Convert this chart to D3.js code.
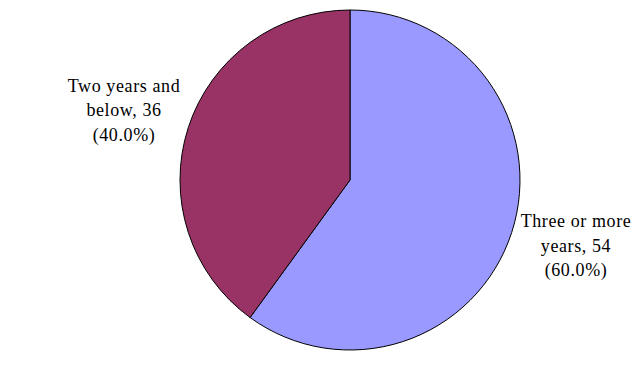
<!DOCTYPE html>
<html><head><meta charset="utf-8">
<script src="https://cdn.jsdelivr.net/npm/d3@7"></script>
<style>body{margin:0;background:#fff}svg{display:block}</style>
</head><body>
<svg id="c" width="633" height="386"></svg>
<script>
const categories = ["Three or more years", "Two years and below"];
const values = [54, 36];
const colors = ["#9999FF", "#993366"];
const labelLines = [["Three or more", "years, 54", "(60.0%)"], ["Two years and", "below, 36", "(40.0%)"]];

const svg = d3.select("#c");
const cx = 350, cy = 180, r = 170;
const pie = d3.pie().sort(null).value(d => d)(values);
const arc = d3.arc().innerRadius(0).outerRadius(r);
const g = svg.append("g").attr("transform", `translate(${cx},${cy})`);
g.selectAll("path").data(pie).join("path")
  .attr("d", arc)
  .attr("fill", (d, i) => colors[i])
  .attr("stroke", "#000").attr("stroke-width", 1);

const labelPos = [[576, 227], [124, 91.5]];
labelLines.forEach((lines, i) => {
  const t = svg.append("text")
    .attr("text-anchor", "middle")
    .style("font-family", "Liberation Serif")
    .style("font-size", "18px")
    .style("letter-spacing", "0.6px")
    .attr("fill", "#000");
  lines.forEach((l, j) => {
    t.append("tspan").attr("x", labelPos[i][0]).attr("y", labelPos[i][1] + j * 24.5).text(l);
  });
});
</script>
</body></html>
